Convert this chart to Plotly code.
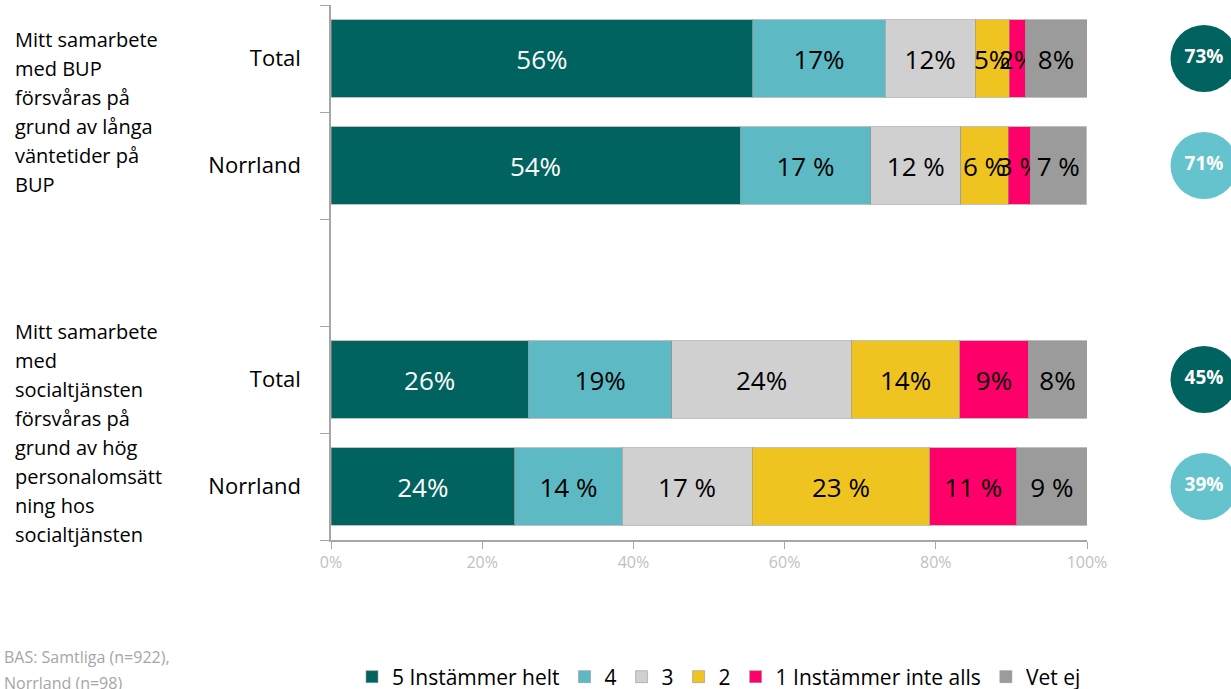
import plotly.graph_objects as go

# ---- data ----
series_names = ["5 Instämmer helt", "4", "3", "2", "1 Instämmer inte alls", "Vet ej"]
row_labels = ["Total", "Norrland", "Total", "Norrland"]
s5 = [55.8, 54.1, 26.1, 24.3]
s4 = [17.5, 17.3, 19.0, 14.2]
s3 = [11.9, 11.9, 23.7, 17.2]
s2 = [4.5, 6.3, 14.4, 23.5]
s1 = [2.1, 2.9, 9.0, 11.5]
svet = [8.2, 7.4, 7.8, 9.3]
t5 = ["56%", "54%", "26%", "24%"]
t4 = ["17%", "17 %", "19%", "14 %"]
t3 = ["12%", "12 %", "24%", "17 %"]
t2 = ["5%", "6 %", "14%", "23 %"]
t1 = ["2%", "3 %", "9%", "11 %"]
tvet = ["8%", "7 %", "8%", "9 %"]
top2 = ["73%", "71%", "45%", "39%"]
group_labels = [
    ["Mitt samarbete", "med BUP", "försvåras på", "grund av långa", "väntetider på", "BUP"],
    ["Mitt samarbete", "med", "socialtjänsten", "försvåras på", "grund av hög",
     "personalomsätt", "ning hos", "socialtjänsten"],
]
x_ticks = [0, 20, 40, 60, 80, 100]
x_tick_text = ["0%", "20%", "40%", "60%", "80%", "100%"]
base_note = ["BAS: Samtliga (n=922),", "Norrland (n=98)"]

# ---- styling ----
colors = ["#00635F", "#5DBAC5", "#D0D0D0", "#F0C420", "#FF006B", "#9B9B9B"]
text_colors = ["white", "black", "black", "black", "black", "black"]
circle_colors = ["#00635F", "#64C3CD", "#00635F", "#64C3CD"]
row_pos = [0, 1, 3, 4]
group_center = [0.5, 3.5]
FONT = "Open Sans, sans-serif"
L, PW, T, PH = 331, 900, 5, 535  # plot geometry in px

values = [s5, s4, s3, s2, s1, svet]
texts = [t5, t4, t3, t2, t1, tvet]

fig = go.Figure()
for name, vals, txt, col, tcol in zip(series_names, values, texts, colors, text_colors):
    fig.add_trace(go.Bar(
        name=name, x=vals, y=row_pos, orientation="h",
        marker=dict(color=col, line=dict(color="rgba(150,150,150,0.6)", width=1)),
        text=txt, textposition="inside", insidetextanchor="middle", textangle=0,
        textfont=dict(color=tcol, size=26, family=FONT),
        width=0.72, cliponaxis=False,
        hoverinfo="skip",
    ))

fig.add_trace(go.Scatter(
    x=[0.5] * len(top2), y=row_pos, xaxis="x2", yaxis="y",
    mode="markers+text", text=top2, textposition="middle center",
    marker=dict(size=67, color=circle_colors, line=dict(width=0)),
    textfont=dict(color="white", size=19, family=FONT, weight="bold"),
    showlegend=False, cliponaxis=False, hoverinfo="skip",
))

annotations = []
for gi, lines in enumerate(group_labels):
    n = len(lines)
    for i, ln in enumerate(lines):
        annotations.append(dict(
            x=(13 - L) / PW, xref="paper", xanchor="left", y=group_center[gi], yref="y",
            yshift=((n - 1) / 2 - i) * 29, text=ln, showarrow=False,
            font=dict(size=20, family=FONT, color="black"),
        ))
for i, ln in enumerate(base_note):
    annotations.append(dict(
        x=(2 - L) / PW, xref="paper", xanchor="left",
        y=(T + PH - 657) / PH, yref="paper", yanchor="middle", yshift=-26 * i,
        text=ln, showarrow=False,
        font=dict(size=16, family=FONT, color="#A6A6A6"),
    ))

fig.update_layout(
    width=1231, height=689,
    margin=dict(l=L, r=0, t=T, b=689 - T - PH, autoexpand=False),
    plot_bgcolor="white", paper_bgcolor="white",
    barmode="stack", bargap=0.28,
    uniformtext=dict(mode="show", minsize=26),
    font=dict(family=FONT),
    xaxis=dict(
        domain=[0, 756 / PW], range=[0, 100], tickvals=x_ticks, ticktext=x_tick_text,
        showgrid=False, zeroline=False, showline=True, linecolor="#A6A6A6", linewidth=1.5,
        ticks="outside", ticklen=7, tickcolor="#A6A6A6", automargin=False,
        tickfont=dict(size=16, color="#BFBFBF", family=FONT),
    ),
    xaxis2=dict(
        domain=[846 / PW, 1], range=[0, 1], anchor="y", visible=False,
    ),
    yaxis=dict(
        range=[4.5, -0.5], tickvals=row_pos, ticktext=row_labels,
        showgrid=False, zeroline=False, showline=True, linecolor="#A6A6A6", linewidth=1.5,
        ticks="", ticklabelstandoff=24, automargin=False,
        tickfont=dict(size=22, color="black", family=FONT),
        minor=dict(tickvals=[-0.5, 0.5, 1.5, 2.5, 3.5, 4.5], ticks="outside", ticklen=9,
                   tickcolor="#A6A6A6", showgrid=False),
    ),
    legend=dict(
        orientation="h", x=(352 - L) / PW, xanchor="left",
        y=(T + PH - 677) / PH, yanchor="middle",
        font=dict(size=21, family=FONT, color="black"), traceorder="normal",
        itemwidth=30, tracegroupgap=0,
    ),
    annotations=annotations,
    showlegend=True,
)

fig.write_html("out.html", post_script="document.body.style.margin='0';",
               config={"displayModeBar": False})
